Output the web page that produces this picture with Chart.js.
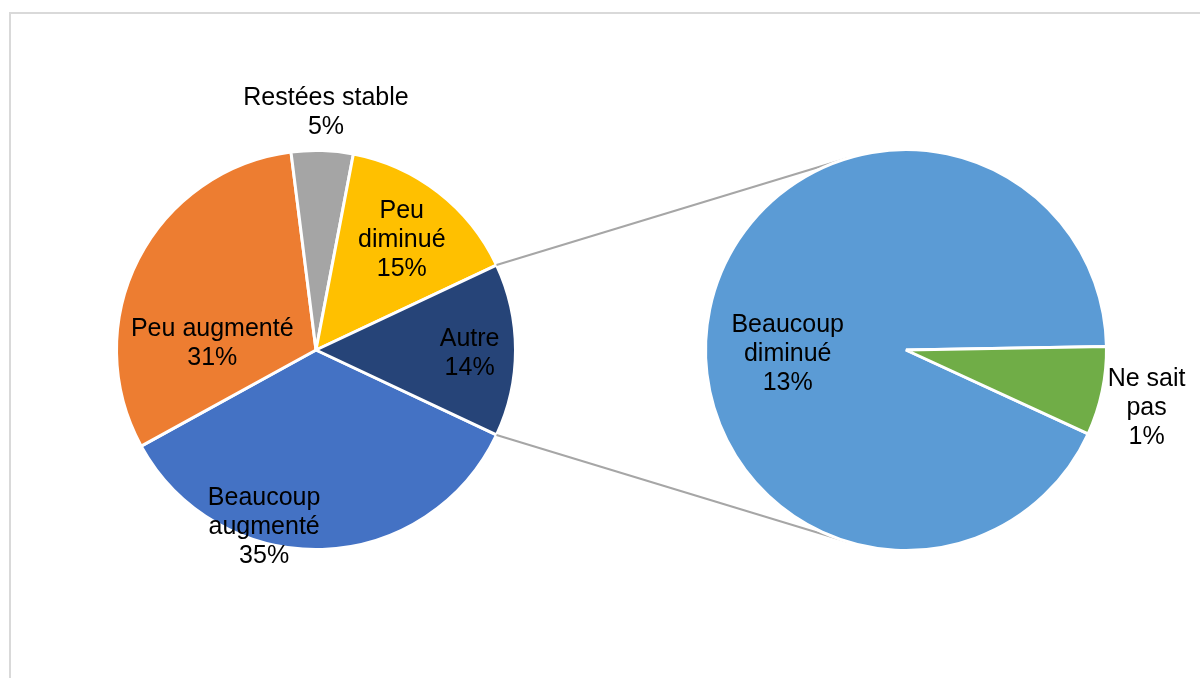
<!DOCTYPE html>
<html>
<head>
<meta charset="utf-8">
<script src="https://cdn.jsdelivr.net/npm/chart.js@4/dist/chart.umd.min.js"></script>
<style>
  html, body { margin: 0; padding: 0; background: #ffffff; }
  #wrap { position: relative; width: 1200px; height: 678px; overflow: hidden; }
  canvas { position: absolute; left: 0; top: 0; }
</style>
</head>
<body>
<div id="wrap">
  <canvas id="c1" width="1200" height="678"></canvas>
  <canvas id="c2" width="1200" height="678"></canvas>
</div>
<script>
// ---- Data ----
const mainLabels = [["Beaucoup", "augmenté"], ["Peu augmenté"], ["Restées stable"], ["Peu", "diminué"], ["Autre"]];
const mainValues = [35, 31, 5, 15, 14];
const mainColors = ["#4472C4", "#ED7D31", "#A5A5A5", "#FFC000", "#264478"];

const subLabels = [["Beaucoup", "diminué"], ["Ne sait", "pas"]];
const subValues = [13, 1];
const subColors = ["#5B9BD5", "#70AD47"];

// label placement (offset from pie centre, in radius units) — layout only
const mainLabelPos = [[-0.26, 0.89], [-0.52, -0.03], [0.05, -1.19], [0.43, -0.55], [0.77, 0.02]];
const subLabelPos = [[-0.59, 0.02], [1.20, 0.29]];

const FONT = "25px 'Liberation Sans', Arial, sans-serif";
const LINE_H = 29;

function labelPlugin(labels, values, positions) {
  return {
    id: 'sliceLabels',
    afterDatasetsDraw(chart) {
      const ctx = chart.ctx;
      const meta = chart.getDatasetMeta(0);
      ctx.save();
      ctx.font = FONT;
      ctx.fillStyle = "#000000";
      ctx.textAlign = "center";
      ctx.textBaseline = "middle";
      meta.data.forEach((arc, i) => {
        const r = arc.outerRadius;
        const cx = arc.x + positions[i][0] * r;
        const cy = arc.y + positions[i][1] * r;
        const lines = labels[i].concat([values[i] + "%"]);
        const startY = cy - (lines.length - 1) * LINE_H / 2;
        lines.forEach((t, k) => ctx.fillText(t, cx, startY + k * LINE_H));
      });
      ctx.restore();
    }
  };
}

const framePlugin = {
  id: 'frame',
  beforeDraw(chart) {
    const ctx = chart.ctx;
    ctx.save();
    ctx.strokeStyle = "#D9D9D9";
    ctx.lineWidth = 2;
    ctx.beginPath();
    ctx.moveTo(10, 700);
    ctx.lineTo(10, 13);
    ctx.lineTo(1210, 13);
    ctx.stroke();
    ctx.restore();
  }
};

const chart1 = new Chart(document.getElementById('c1'), {
  type: 'pie',
  data: {
    labels: mainLabels.map(l => l.join(' ')),
    datasets: [{
      data: mainValues,
      backgroundColor: mainColors,
      borderColor: "#FFFFFF",
      borderWidth: 3
    }]
  },
  options: {
    responsive: false,
    animation: false,
    rotation: 90 + 25.2,
    layout: { padding: { left: 115, right: 683, top: 148, bottom: 126 } },
    plugins: { legend: { display: false }, tooltip: { enabled: false } }
  },
  plugins: [framePlugin, labelPlugin(mainLabels, mainValues, mainLabelPos)]
});

const connectorPlugin = {
  id: 'connectors',
  beforeDatasetsDraw(chart) {
    const src = chart1.getDatasetMeta(0).data[mainValues.length - 1];
    const dst = chart.getDatasetMeta(0).data[0];
    const C = { x: dst.x, y: dst.y }, R = dst.outerRadius;
    const ctx = chart.ctx;
    ctx.save();
    ctx.strokeStyle = "#A6A6A6";
    ctx.lineWidth = 2;
    [src.startAngle, src.endAngle].forEach((a, idx) => {
      const P = { x: src.x + Math.cos(a) * src.outerRadius, y: src.y + Math.sin(a) * src.outerRadius };
      const dx = P.x - C.x, dy = P.y - C.y;
      const d = Math.hypot(dx, dy);
      const base = Math.atan2(dy, dx);
      const off = Math.acos(R / d);
      const ang = idx === 0 ? base + off : base - off;
      const T = { x: C.x + Math.cos(ang) * R, y: C.y + Math.sin(ang) * R };
      ctx.beginPath();
      ctx.moveTo(P.x, P.y);
      ctx.lineTo(T.x, T.y);
      ctx.stroke();
    });
    ctx.restore();
  }
};

const chart2 = new Chart(document.getElementById('c2'), {
  type: 'pie',
  data: {
    labels: subLabels.map(l => l.join(' ')),
    datasets: [{
      data: subValues,
      backgroundColor: subColors,
      borderColor: "#FFFFFF",
      borderWidth: 3
    }]
  },
  options: {
    responsive: false,
    animation: false,
    rotation: 90 + 24.7,
    layout: { padding: { left: 704, right: 92, top: 148, bottom: 126 } },
    plugins: { legend: { display: false }, tooltip: { enabled: false } }
  },
  plugins: [connectorPlugin, labelPlugin(subLabels, subValues, subLabelPos)]
});
</script>
</body>
</html>
